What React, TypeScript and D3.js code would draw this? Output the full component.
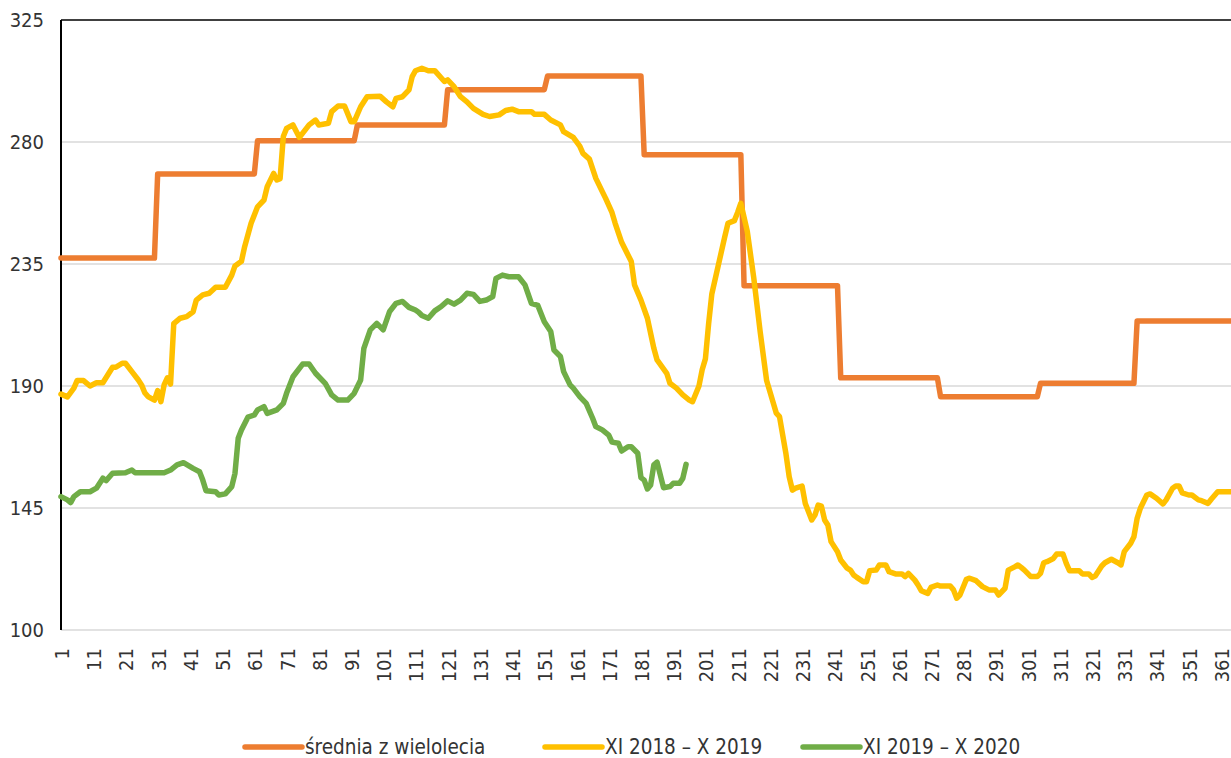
import React from "react";
import * as d3 from "d3";

// ---- data ----
const monthStart = [1, 31, 62, 93, 121, 152, 182, 213, 243, 274, 305, 335];
const monthEnd = [30, 61, 92, 120, 151, 181, 212, 242, 273, 304, 334, 365];
const avgValues = [237.2, 268.2, 280.5, 286.3, 299.3, 304.3, 275.3, 227, 193, 186, 191, 214];

const series2019: [number, number][] = [
  [1, 187], [3, 186], [5, 189.2], [6, 192], [8, 192], [10, 190], [12, 191.2], [14, 191.2],
  [17, 196.9], [18, 196.9], [20, 198.4], [21, 198.4], [23, 195.3], [25, 192.2], [26, 190.4],
  [27, 187.5], [28, 186.1], [30, 184.8], [31, 188.3], [32, 184.2], [33, 190.4], [34, 193],
  [35, 190.7], [36, 213], [38, 215], [40, 215.6], [42, 217.4], [43, 221.7], [45, 223.6],
  [47, 224.2], [49, 226.4], [52, 226.4], [54, 230.9], [55, 234.3], [57, 236], [58, 241.4],
  [60, 250], [62, 256.1], [64, 258.6], [65, 263.5], [67, 268.4], [68, 266], [69, 266.5],
  [70, 282], [71, 285], [73, 286.3], [75, 281.7], [78, 286.3], [80, 288.1], [81, 286.3],
  [84, 286.9], [85, 291.2], [87, 293.3], [89, 293.3], [91, 287.5], [92, 287.5], [94, 293],
  [96, 296.7], [100, 296.9], [102, 294.8], [104, 293], [105, 296.1], [107, 296.7], [109, 299.2],
  [110, 304.1], [111, 306.3], [113, 307.2], [115, 306.3], [117, 306.3], [120, 302.3],
  [121, 302.9], [123, 300.4], [125, 296.7], [127, 294.8], [129, 292.4], [132, 290.2],
  [134, 289.4], [137, 290], [139, 291.6], [141, 292.1], [143, 291.2], [147, 291.2],
  [148, 290.2], [151, 290.2], [153, 288.1], [156, 286.3], [157, 283.8], [160, 281.7],
  [162, 278.5], [163, 275.8], [165, 273.7], [167, 266.6], [169, 261.7], [170, 259.3],
  [172, 254], [173, 250], [175, 243], [178, 235.9], [179, 227.3], [181, 221.7], [183, 215],
  [185, 203.9], [186, 199.6], [189, 194.7], [190, 191], [192, 189.2], [194, 186.7],
  [196, 184.8], [197, 184.2], [199, 190], [200, 196], [201, 200], [202, 213], [203, 224],
  [205, 234.5], [207, 245], [208, 250], [210, 251], [211, 254], [212, 257.4], [214, 247],
  [216, 230], [218, 210], [220, 192], [222, 184], [223, 180], [224, 178.7], [226, 165],
  [227, 156.6], [228, 151.6], [229, 152.3], [231, 153.1], [232, 146.7], [234, 140.6],
  [235, 142.4], [236, 146.1], [237, 145.7], [238, 140.6], [239, 138.7], [240, 132.6],
  [242, 128.9], [243, 125.8], [245, 122.8], [246, 122.1], [247, 120.3], [248, 119.4],
  [250, 117.8], [251, 117.8], [252, 121.9], [254, 122.1], [255, 124], [257, 124],
  [258, 121.5], [260, 120.7], [262, 120.7], [263, 119.7], [264, 120.9], [266, 118.4],
  [267, 116.6], [268, 114.5], [270, 113.5], [271, 115.7], [273, 116.6], [274, 116.2],
  [277, 116.2], [278, 114.8], [279, 111.7], [280, 112.9], [282, 118.7], [283, 119.1],
  [285, 118.2], [287, 116], [289, 114.8], [291, 114.8], [292, 112.9], [294, 115.4],
  [295, 122.1], [297, 123.3], [298, 124], [299, 123.1], [300, 122.1], [302, 119.7],
  [304, 119.7], [305, 120.9], [306, 124.8], [307, 125.2], [309, 126.4], [310, 128],
  [312, 128], [313, 124.6], [314, 121.9], [317, 121.9], [318, 120.7], [320, 120.7],
  [321, 119.4], [322, 119.9], [324, 123.6], [325, 124.8], [327, 126.1], [329, 124.8],
  [330, 124], [331, 128.9], [333, 132], [334, 134.4], [335, 141.2], [336, 144.9],
  [338, 149.8], [339, 150.2], [341, 148.6], [343, 146.5], [344, 148], [346, 152.3],
  [347, 153.1], [348, 153.1], [349, 150.6], [351, 149.8], [352, 149.8], [354, 148],
  [355, 147.7], [357, 146.7], [358, 148.2], [360, 151], [365, 151],
];

const series2020: [number, number][] = [
  [1, 149.2], [3, 148], [4, 147], [5, 149.2], [7, 151], [10, 151], [12, 152.3], [14, 156],
  [15, 155.1], [17, 157.8], [21, 158], [23, 159], [24, 158], [28, 158], [33, 158], [35, 159],
  [37, 160.9], [39, 161.7], [42, 159.6], [44, 158.4], [45, 155.3], [46, 151.4], [49, 151],
  [50, 149.8], [52, 150.2], [54, 152.9], [55, 157.8], [56, 170.7], [57, 173.8], [59, 178.5],
  [61, 179.3], [62, 181.2], [64, 182.4], [65, 179.9], [68, 181.2], [70, 183.6], [71, 187.3],
  [73, 193.4], [76, 198.1], [78, 198.1], [80, 194.7], [83, 191], [85, 186.7], [87, 184.8],
  [90, 184.8], [92, 187.3], [94, 192.2], [95, 203.9], [97, 210.7], [99, 213.1], [101, 210.7],
  [103, 217.5], [105, 220.5], [107, 221.2], [109, 219], [111, 218], [112, 217.2], [113, 216],
  [115, 215], [117, 217.7], [119, 219.3], [121, 221.4], [123, 220.2], [125, 221.7],
  [127, 224.2], [129, 223.8], [131, 221.2], [133, 221.7], [135, 223], [136, 229.7],
  [138, 230.9], [140, 230.3], [143, 230.3], [145, 227.3], [147, 220.5], [149, 219.7],
  [151, 213.7], [153, 210.1], [154, 203.3], [156, 200.9], [157, 195.3], [159, 190.4],
  [160, 189.2], [162, 186.1], [164, 183.6], [166, 178.1], [167, 175], [169, 173.8],
  [171, 171.9], [172, 169.3], [174, 168.9], [175, 166], [177, 167.6], [178, 167.6],
  [180, 165.2], [181, 156.2], [182, 155.3], [183, 152], [184, 153.5], [185, 160.9],
  [186, 161.9], [187, 157.2], [188, 152.5], [190, 152.9], [191, 154.1], [193, 154.1],
  [194, 156], [195, 161.1],
];

const yTicks = [100, 145, 190, 235, 280, 325];
const xTicks = d3.range(1, 366, 10);

const legendItems = [
  { label: "średnia z wielolecia", color: "#ED7D31" },
  { label: "XI 2018 – X 2019", color: "#FFC000" },
  { label: "XI 2019 – X 2020", color: "#70AD47" },
];

// ---- layout ----
const W = 1231;
const H = 758;
const left = 61;
const top = 20;
const bottom = 630;
const dayWidth = 3.222;

const FONT = "'Liberation Sans Narrow', 'DejaVu Sans Condensed', 'Open Sans', sans-serif";

export default function App() {
  const x = d3.scaleLinear().domain([1, 365]).range([left, left + 364 * dayWidth]);
  const y = d3.scaleLinear().domain([100, 325]).range([bottom, top]);
  const line = d3
    .line<[number, number]>()
    .x((d) => x(d[0]))
    .y((d) => y(d[1]));

  const avgPoints: [number, number][] = monthStart.flatMap((s, i) => [
    [s, avgValues[i]] as [number, number],
    [monthEnd[i], avgValues[i]] as [number, number],
  ]);

  const legendX = [245, 545, 803];
  const legendY = 747;

  return (
    <svg
      width={W}
      height={H}
      style={{ position: "absolute", left: 0, top: 0, background: "#fff" }}
    >
      <rect x={0} y={0} width={W} height={H} fill="#fff" />
      {/* gridlines */}
      {yTicks.slice(0, -1).map((t) => (
        <line
          key={t}
          x1={left}
          x2={W}
          y1={y(t)}
          y2={y(t)}
          stroke="#d9d9d9"
          strokeWidth={1.5}
        />
      ))}
      {/* top border & left axis */}
      <line x1={left} x2={W} y1={y(325)} y2={y(325)} stroke="#000" strokeWidth={1.5} />
      <line x1={left} x2={left} y1={y(325)} y2={y(100)} stroke="#000" strokeWidth={2} />

      {/* y labels */}
      {yTicks.map((t) => (
        <text
          key={t}
          x={44}
          y={y(t)}
          dy="0.35em"
          textAnchor="end"
          fontFamily={FONT}
          fontSize={20}
          fill="#333"
        >
          {t}
        </text>
      ))}

      {/* x labels */}
      {xTicks.map((t) => (
        <text
          key={t}
          transform={`translate(${x(t) + 1},648) rotate(-90)`}
          dy="0.35em"
          textAnchor="end"
          fontFamily={FONT}
          fontSize={20}
          fill="#333"
        >
          {t}
        </text>
      ))}

      {/* series */}
      <path
        d={line(avgPoints) || ""}
        fill="none"
        stroke="#ED7D31"
        strokeWidth={5.5}
        strokeLinejoin="round"
        strokeLinecap="round"
      />
      <path
        d={line(series2019) || ""}
        fill="none"
        stroke="#FFC000"
        strokeWidth={5.5}
        strokeLinejoin="round"
        strokeLinecap="round"
      />
      <path
        d={line(series2020) || ""}
        fill="none"
        stroke="#70AD47"
        strokeWidth={5.5}
        strokeLinejoin="round"
        strokeLinecap="round"
      />

      {/* legend */}
      {legendItems.map((it, i) => (
        <g key={it.label}>
          <line
            x1={legendX[i]}
            x2={legendX[i] + 57}
            y1={legendY}
            y2={legendY}
            stroke={it.color}
            strokeWidth={5.5}
            strokeLinecap="round"
          />
          <text
            x={legendX[i] + 60}
            y={legendY}
            dy="0.35em"
            fontFamily={FONT}
            fontSize={20.5}
            fill="#333"
          >
            {it.label}
          </text>
        </g>
      ))}
    </svg>
  );
}
